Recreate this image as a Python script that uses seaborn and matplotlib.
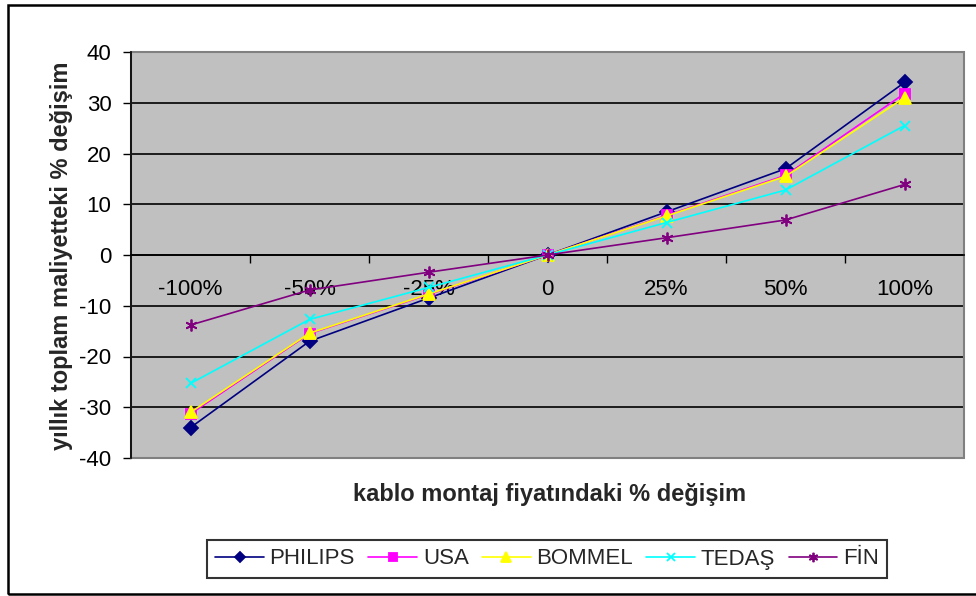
import matplotlib
matplotlib.use("Agg")
import matplotlib.pyplot as plt
from matplotlib.patches import Rectangle
import seaborn as sns
import pandas as pd

# Categories on the x axis (change in cable installation price)
categories = ["-100%", "-50%", "-25%", "0", "25%", "50%", "100%"]

# Change in total annual cost (%) for each scenario
philips = [-34.0, -17.0, -8.5, 0.0, 8.5, 17.0, 34.0]
usa = [-31.3, -15.5, -7.8, 0.0, 7.8, 15.7, 31.8]
bommel = [-31.0, -15.4, -7.7, 0.0, 7.7, 15.5, 31.0]
tedas = [-25.3, -12.7, -6.4, 0.0, 6.4, 12.8, 25.5]
fin = [-13.8, -6.9, -3.4, 0.0, 3.4, 6.9, 13.9]

series_names = ["PHILIPS", "USA", "BOMMEL", "TEDAŞ", "FİN"]
series_values = [philips, usa, bommel, tedas, fin]

colors = ["#000080", "#FF00FF", "#FFFF00", "#00FFFF", "#800080"]
markers = ["D", "s", "^", "x", (6, 2, 0)]
msizes = [7, 7, 8.5, 7.5, 8.5]

sns.set_theme(style="white")
plt.rcParams["font.family"] = ["Liberation Sans", "DejaVu Sans"]
plt.rcParams["axes.unicode_minus"] = False

fig = plt.figure(figsize=(9.76, 5.96), dpi=100)
fig.patch.set_facecolor("white")
ax = fig.add_axes([131 / 976, 1 - 458 / 596, 833 / 976, 406 / 596])
ax.set_facecolor("#C0C0C0")

handles = []
for name, vals, c, m, ms in zip(series_names, series_values, colors, markers, msizes):
    df = pd.DataFrame({"pos": range(len(categories)), "value": vals})
    sns.lineplot(data=df, x="pos", y="value", ax=ax, color=c, marker=m,
                 markersize=ms, markeredgecolor=c, markerfacecolor=c,
                 markeredgewidth=1.3, linewidth=1.2, errorbar=None,
                 legend=False, zorder=3)
    line = ax.lines[-1]
    line.set_label(name)
    line.set_clip_on(False)
    handles.append(line)

# Axes limits and ticks
ax.set_xlim(-0.5, len(categories) - 0.5)
ax.set_ylim(-40, 40)
ax.set_yticks(range(-40, 41, 10))
ax.set_xticks(range(len(categories)))
ax.set_xticklabels(categories)
ax.set_xticks([i + 0.5 for i in range(len(categories) - 1)], minor=True)

ax.yaxis.grid(True, color="black", linewidth=1.2)
ax.xaxis.grid(False)
ax.set_axisbelow(True)

ax.tick_params(axis="y", which="major", direction="out", length=6, width=1,
               color="black", pad=8, labelsize=16, labelcolor="black", left=True)
ax.tick_params(axis="x", which="major", length=0, pad=17, labelsize=16,
               labelcolor="black", bottom=True)
ax.tick_params(axis="x", which="minor", direction="out", length=6, width=1,
               color="black", bottom=True)

# Category axis crosses at zero
ax.spines["bottom"].set_position(("data", 0))
ax.spines["bottom"].set_color("black")
ax.spines["bottom"].set_linewidth(1.2)
ax.spines["left"].set_color("black")
ax.spines["left"].set_linewidth(1.2)
ax.spines["top"].set_visible(False)
ax.spines["right"].set_visible(False)

# Plot area frame
ax.add_patch(Rectangle((0, 0), 1, 1, transform=ax.transAxes, fill=False,
                       edgecolor="#808080", linewidth=1.5, zorder=1, clip_on=False))

ax.set_xlabel("")
ax.set_ylabel("")
fig.text(550 / 976, 1 - 495 / 596, "kablo montaj fiyatındaki % değişim",
         ha="center", va="center", fontsize=17, fontweight="bold")
fig.text(62 / 976, 1 - 256 / 596, "yıllık toplam maliyetteki % değişim",
         ha="center", va="center", rotation=90, fontsize=17, fontweight="bold")

leg = fig.legend(handles=handles, labels=series_names, loc="center", ncol=5,
                 bbox_to_anchor=(547 / 976, 1 - 559 / 596), frameon=True,
                 fancybox=False, fontsize=16, handlelength=2.2,
                 handletextpad=0.25, columnspacing=0.6, borderpad=0.38,
                 borderaxespad=0)
leg.get_frame().set_edgecolor("black")
leg.get_frame().set_linewidth(1.5)
leg.get_frame().set_facecolor("white")
for h in leg.legend_handles:
    h.set_markersize(h.get_markersize() * 0.8)

# Chart border
fig.patches.append(Rectangle((7.5 / 976, 2 / 596), 1.2, 589 / 596,
                             transform=fig.transFigure, fill=False,
                             edgecolor="black", linewidth=1.8))

fig.savefig("out.png", dpi=100)
